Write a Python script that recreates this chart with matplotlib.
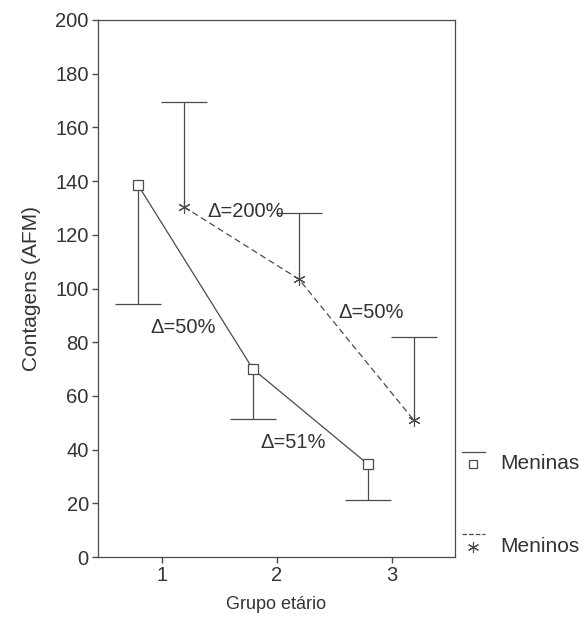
import matplotlib
matplotlib.use("Agg")
import matplotlib.pyplot as plt
from matplotlib.lines import Line2D
import numpy as np

plt.rcParams['font.family'] = ['Liberation Sans', 'DejaVu Sans']

groups = [1, 2, 3]
meninas = [138.5, 70.0, 34.6]
meninas_err = [44.3, 18.6, 13.4]     # lower side only
meninos = [130.4, 103.5, 51.0]
meninos_err = [39.0, 24.6, 30.9]     # upper side only

deltas = ["Δ=50%", "Δ=51%", "Δ=200%", "Δ=50%"]
delta_x = [1.18, 2.14, 1.73, 2.82]
delta_y = [85.5, 42.5, 128.5, 91.0]

ink = "#4a4a4a"
txt = "#333333"


class CapHandler:
    # legend key: short line on top, marker underneath (SPSS style)
    def legend_artist(self, legend, orig_handle, fontsize, handlebox):
        x0, y0 = -handlebox.xdescent, -handlebox.ydescent
        w, h = handlebox.width, handlebox.height
        line = Line2D([x0, x0 + w], [y0 + h * 1.2] * 2,
                      color=orig_handle.get_color(), lw=0.9,
                      ls=orig_handle.get_linestyle())
        mark = Line2D([x0 + w / 2], [y0 + h * 0.35], ls='none',
                      marker=orig_handle.get_marker(),
                      ms=orig_handle.get_markersize(),
                      mfc=orig_handle.get_markerfacecolor(),
                      mec=orig_handle.get_markeredgecolor(),
                      mew=orig_handle.get_markeredgewidth())
        handlebox.add_artist(line)
        handlebox.add_artist(mark)
        return line


def main():
    fig = plt.figure(figsize=(5.79, 6.17), dpi=100)
    ax = fig.add_axes([0.169, 0.0972, 0.617, 0.8704])

    x = np.array(groups, dtype=float)
    xa = x - 0.21
    xb = x + 0.19
    ya = np.array(meninas)
    yb = np.array(meninos)
    ea = np.array(meninas_err)
    eb = np.array(meninos_err)
    cap = 0.2

    # meninas: lower error bars
    ax.vlines(xa, ya - ea, ya, color=ink, lw=0.9)
    ax.hlines(ya - ea, xa - cap, xa + cap, color=ink, lw=0.9)
    ax.plot(xa, ya, color=ink, lw=0.9, ls='-', marker='s', ms=7,
            mfc='white', mec=ink, mew=0.9)

    # meninos: upper error bars
    ax.vlines(xb, yb, yb + eb, color=ink, lw=0.9)
    ax.hlines(yb + eb, xb - cap, xb + cap, color=ink, lw=0.9)
    ax.plot(xb, yb, color=ink, lw=0.9, ls=(0, (5, 3)), marker=(6, 2, 0),
            ms=9, mec=ink, mew=0.8)

    for s, tx, ty in zip(deltas, delta_x, delta_y):
        ax.text(tx, ty, s, ha='center', va='center', fontsize=14.5, color=txt)

    ax.set_xlim(0.44, 3.55)
    ax.set_ylim(0, 200)
    ax.set_xticks(groups)
    ax.set_yticks(np.arange(0, 201, 20))
    ax.tick_params(axis='both', labelsize=14.5, colors=ink, labelcolor=txt,
                   length=4.5, width=1, direction='out', pad=2)
    for sp in ax.spines.values():
        sp.set_color(ink)
        sp.set_linewidth(0.9)

    ax.set_xlabel('Grupo etário', fontsize=13, color=txt, labelpad=8)
    ax.set_ylabel('Contagens (AFM)', fontsize=15, color=txt, labelpad=10)

    handles = [
        Line2D([], [], color=ink, lw=0.9, ls='-', marker='s', ms=6,
               mfc='white', mec=ink, mew=0.9),
        Line2D([], [], color=ink, lw=0.9, ls=(0, (3, 2)), marker=(6, 2, 0),
               ms=8, mfc=ink, mec=ink, mew=0.8),
    ]
    ax.legend(handles, ['Meninas', 'Meninos'], loc='center left',
              bbox_to_anchor=(1.0, 0.097), frameon=False, fontsize=15,
              handlelength=1.1, labelspacing=3.05, handletextpad=0.72,
              borderaxespad=0.1, borderpad=0.23, labelcolor=txt,
              handler_map={h: CapHandler() for h in handles})

    fig.savefig('out.png', dpi=100, facecolor='white')


if __name__ == "__main__":
    main()
